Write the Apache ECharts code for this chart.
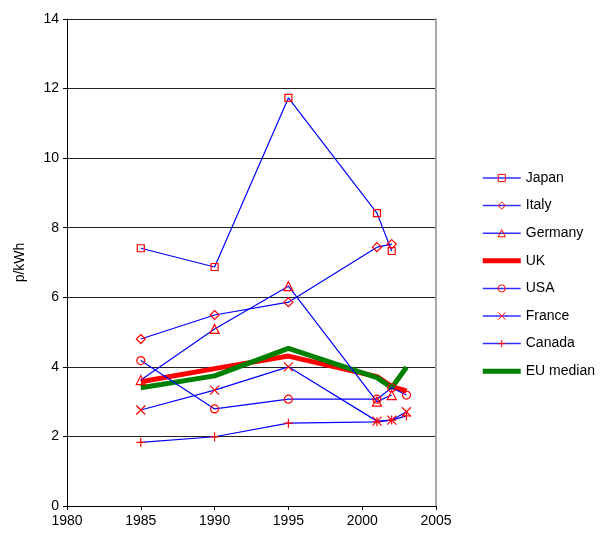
<!DOCTYPE html>
<html><head><meta charset="utf-8">
<script src="https://cdn.jsdelivr.net/npm/echarts@6/dist/echarts.min.js"></script>
<style>html,body{margin:0;padding:0;background:#fff}#c{width:611px;height:539px}</style>
</head><body><div id="c"></div>
<script>
const yearsA = [1985, 1990, 1995, 2001, 2002];
const yearsB = [1985, 1990, 1995, 2001, 2002, 2003];
const japan   = [7.41, 6.87, 11.73, 8.42, 7.33];
const italy   = [4.80, 5.49, 5.86, 7.44, 7.53];
const germany = [3.62, 5.09, 6.32, 3.00, 3.19];
const uk      = [3.57, 3.95, 4.31, 3.72, 3.43, 3.31];
const usa     = [4.18, 2.79, 3.07, 3.07, 3.40, 3.19];
const france  = [2.76, 3.33, 4.00, 2.44, 2.47, 2.71];
const canada  = [1.83, 1.99, 2.38, 2.42, 2.47, 2.59];
const euMedian= [3.40, 3.74, 4.53, 3.69, 3.40, 3.99];
const xTicks = [1980, 1985, 1990, 1995, 2000, 2005];
const yTicks = [0, 2, 4, 6, 8, 10, 12, 14];
const legendNames = ['Japan', 'Italy', 'Germany', 'UK', 'USA', 'France', 'Canada', 'EU median'];

const pairs = (ys, vs) => vs.map((v, i) => [ys[i], v]);
const FONT = 'Liberation Sans, Arial, sans-serif';

function markerSeries(name, ys, vs, symbol, size) {
  return {
    name, type: 'line', data: pairs(ys, vs),
    symbol, symbolSize: size, showSymbol: true,
    lineStyle: { color: '#0000ff', width: 1.2 },
    itemStyle: { color: 'rgba(255,255,255,0)', borderColor: '#ff0000', borderWidth: 1.2 },
    emphasis: { disabled: true }, animation: false, z: 3
  };
}
function thickSeries(name, ys, vs, color) {
  return {
    name, type: 'line', data: pairs(ys, vs),
    symbol: 'none', showSymbol: false,
    lineStyle: { color, width: 5 },
    itemStyle: { color },
    emphasis: { disabled: true }, animation: false, z: 2
  };
}
const X = 'path://M0,0L10,10M10,0L0,10';
const P = 'path://M5,0L5,10M0,5L10,5';
const BAR = 'path://M0,0L38,0L38,5L0,5Z';

const chart = echarts.init(document.getElementById('c'), null, { renderer: 'canvas' });
chart.setOption({
  animation: false,
  backgroundColor: '#fff',
  grid: { left: 67, right: 175, top: 19, bottom: 33, containLabel: false },
  xAxis: {
    type: 'value', min: xTicks[0], max: xTicks[xTicks.length - 1], interval: 5,
    axisLine: { show: true, onZero: false, lineStyle: { color: '#000', width: 1 } },
    axisTick: { show: true, length: 4, inside: false, lineStyle: { color: '#000' } },
    axisLabel: { color: '#000', fontSize: 14, fontFamily: FONT, margin: 8, formatter: v => String(v) },
    splitLine: { show: false }
  },
  yAxis: [{
    type: 'value', min: yTicks[0], max: yTicks[yTicks.length - 1], interval: 2,
    name: 'p/kWh', nameLocation: 'middle', nameGap: 40, nameRotate: 90,
    nameTextStyle: { color: '#000', fontSize: 14, fontFamily: FONT },
    axisLine: { show: true, lineStyle: { color: '#000', width: 1 } },
    axisTick: { show: true, length: 4, lineStyle: { color: '#000' } },
    axisLabel: { color: '#000', fontSize: 14, fontFamily: FONT, margin: 8 },
    splitLine: { show: true, lineStyle: { color: '#222', width: 1 } }
  }, {
    type: 'value', min: 0, max: 14, interval: 2, position: 'right',
    axisLine: { show: true, lineStyle: { color: '#a8a8a8', width: 2 } },
    axisTick: { show: false }, axisLabel: { show: false }, splitLine: { show: false }
  }],
  legend: {
    orient: 'vertical', left: 477, top: 166, itemWidth: 38, itemHeight: 9, itemGap: 13.6,
    symbolKeepAspect: true,
    textStyle: { color: '#000', fontSize: 14, fontFamily: FONT },
    lineStyle: { width: 1.5, color: '#3030ff' },
    data: legendNames.map(n => (n === 'UK' || n === 'EU median')
      ? { name: n, icon: BAR }
      : { name: n, itemStyle: { borderWidth: 1 } })
  },
  series: [
    thickSeries('UK', yearsB, uk, '#ff0000'),
    thickSeries('EU median', yearsB, euMedian, '#008000'),
    markerSeries('Japan', yearsA, japan, 'rect', 7),
    markerSeries('Italy', yearsA, italy, 'diamond', 9),
    markerSeries('Germany', yearsA, germany, 'triangle', 9),
    markerSeries('USA', yearsB, usa, 'circle', 8),
    markerSeries('France', yearsB, france, X, 9),
    markerSeries('Canada', yearsB, canada, P, 9)
  ]
});
</script></body></html>
